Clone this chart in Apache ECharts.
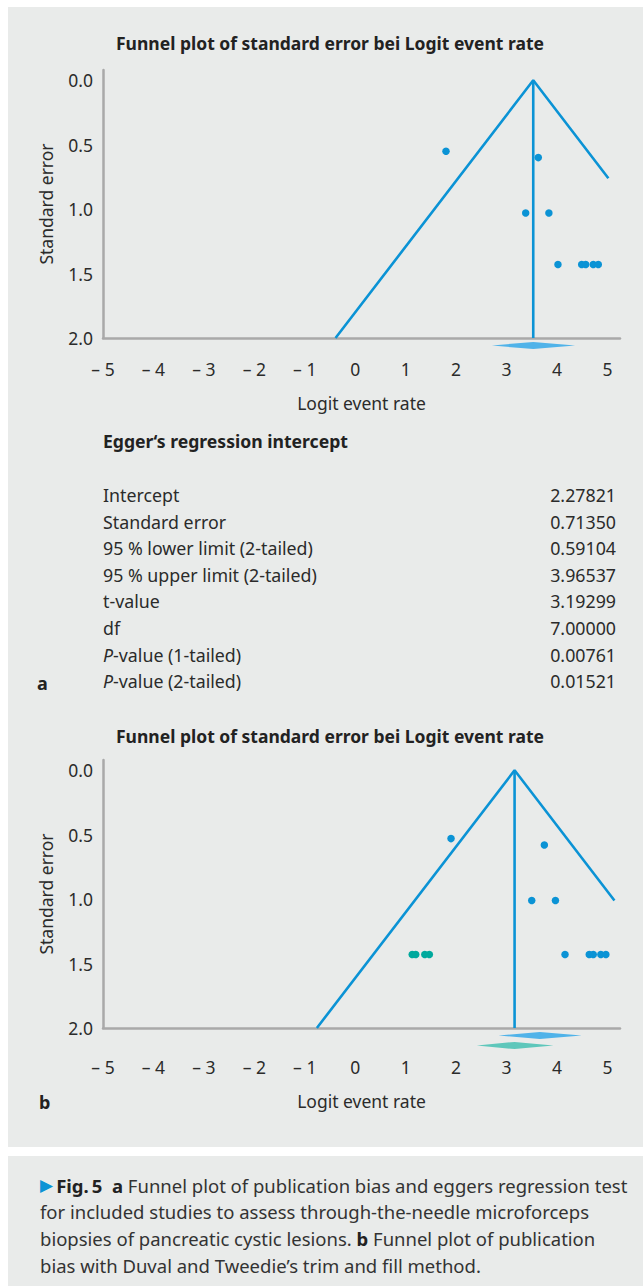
<!DOCTYPE html>
<html><head><meta charset="utf-8">
<script src="https://cdn.jsdelivr.net/npm/echarts@6/dist/echarts.min.js"></script>
<style>html,body{margin:0;padding:0;background:#fff;}#c{width:643px;height:1286px;}</style>
</head><body><div id="c"></div>
<script>
// ---- tick labels ----
const xTickValues = [-5, -4, -3, -2, -1, 0, 1, 2, 3, 4, 5];
const yTickValues = [0, 0.5, 1.0, 1.5, 2.0];

// ---- panel a (observed studies) ----
const aStudyLogit = [1.80, 3.63, 3.38, 3.84, 4.02, 4.49, 4.57, 4.72, 4.82];
const aStudySE    = [0.55, 0.60, 1.03, 1.03, 1.43, 1.43, 1.43, 1.43, 1.43];
const aPooled = [2.71, 3.53, 4.36];          // lower, estimate, upper
const aFunnelRightSE = 0.76;

// ---- panel b (trim and fill) ----
const bStudyLogit = [1.90, 3.75, 3.50, 3.97, 4.16, 4.64, 4.72, 4.87, 4.97];
const bStudySE    = [0.53, 0.58, 1.01, 1.01, 1.43, 1.43, 1.43, 1.43, 1.43];
const bImputedLogit = [1.13, 1.20, 1.38, 1.47];
const bImputedSE    = [1.43, 1.43, 1.43, 1.43];
const bObservedPooled = [2.84, 3.66, 4.49];
const bAdjustedPooled = [2.41, 3.16, 3.93];
const bFunnelRightSE = 1.01;

const SE_MAX = 2.0;
const Z = 1.96;

// ---- Egger table ----
const eggerLabels = ['Intercept', 'Standard error', '95 % lower limit (2-tailed)', '95 % upper limit (2-tailed)', 't-value', 'df', '{i|P}-value (1-tailed)', '{i|P}-value (2-tailed)'];
const eggerValues = ['2.27821', '0.71350', '0.59104', '3.96537', '3.19299', '7.00000', '0.00761', '0.01521'];

const FONT = 'Noto Sans';
const BLUE = '#0b93d5';
const TEAL = '#00a99d';
const AXIS_GRAY = '#a9a9a9';
const TXT = '#2b2b2b';

function zip(a, b) { return a.map((v, i) => [v, b[i]]); }
function funnel(c, rightSE) {
  return [[c - Z * SE_MAX, SE_MAX], [c, 0], [c + Z * rightSE, rightSE]];
}

function xAxisCfg(gridIndex, margin, nameGap) {
  return {
    type: 'value', gridIndex, min: -5, max: 5.25,
    axisLine: { show: true, onZero: false, lineStyle: { color: AXIS_GRAY, width: 2.5 } },
    axisTick: { show: false }, splitLine: { show: false },
    axisLabel: {
      customValues: xTickValues, margin, color: TXT, fontFamily: FONT, fontSize: 17.5,
      formatter: v => v < 0 ? '\u2013 ' + Math.abs(v) : String(v)
    },
    name: 'Logit event rate', nameLocation: 'middle', nameGap,
    nameTextStyle: { color: TXT, fontFamily: FONT, fontSize: 17.5 }
  };
}
function yAxisCfg(gridIndex) {
  return {
    type: 'value', gridIndex, inverse: true, min: -0.08, max: SE_MAX,
    axisLine: { show: true, onZero: false, lineStyle: { color: AXIS_GRAY, width: 2.5 } },
    axisTick: { show: false }, splitLine: { show: false },
    axisLabel: {
      customValues: yTickValues, margin: 10, color: TXT, fontFamily: FONT, fontSize: 17.5,
      formatter: v => v.toFixed(1)
    },
    name: 'Standard error', nameLocation: 'middle', nameGap: 48, nameRotate: 90,
    nameTextStyle: { color: TXT, fontFamily: FONT, fontSize: 17.5 }
  };
}

function diamondSeries(idx, pooled, color, offset) {
  return {
    type: 'custom', xAxisIndex: idx, yAxisIndex: idx, clip: false, silent: true,
    data: [pooled],
    encode: { x: [0, 1, 2] },
    renderItem: (params, api) => {
      const lo = api.coord([api.value(0), SE_MAX]);
      const mid = api.coord([api.value(1), SE_MAX]);
      const hi = api.coord([api.value(2), SE_MAX]);
      const y = lo[1] + offset, h = 3.6;
      return { type: 'polygon', shape: { points: [[lo[0], y], [mid[0], y - h], [hi[0], y], [mid[0], y + h]] }, style: { fill: color } };
    }
  };
}
function lineSeries(idx, data) {
  return { type: 'line', xAxisIndex: idx, yAxisIndex: idx, data, symbol: 'none', silent: true,
    lineStyle: { color: BLUE, width: 2.6 }, z: 2 };
}
function dotSeries(idx, data, color) {
  return { type: 'scatter', xAxisIndex: idx, yAxisIndex: idx, data, symbol: 'circle', symbolSize: 7.5,
    itemStyle: { color, opacity: 1 }, z: 3 };
}

const graphics = [
  { type: 'rect', shape: { x: 8, y: 7, width: 635, height: 1140 }, style: { fill: '#e9ebea' }, z: -10 },
  { type: 'rect', shape: { x: 8, y: 1156, width: 635, height: 130 }, style: { fill: '#e9ebea' }, z: -10 },
  { type: 'text', x: 103, y: 441, style: { text: 'Egger\u2018s regression intercept', font: `bold 17.6px "${FONT}"`, fill: '#222', textVerticalAlign: 'middle' } },
  { type: 'text', x: 37, y: 683, style: { text: 'a', font: `bold 18px "${FONT}"`, fill: '#222', textVerticalAlign: 'middle' } },
  { type: 'text', x: 39, y: 1102, style: { text: 'b', font: `bold 18px "${FONT}"`, fill: '#222', textVerticalAlign: 'middle' } }
];
eggerLabels.forEach((lab, i) => {
  const y = 495 + i * 26.6;
  graphics.push({ type: 'text', x: 103, y, style: { text: lab, font: `17.8px "${FONT}"`, fill: TXT, textVerticalAlign: 'middle',
    rich: { i: { fontStyle: 'italic', fontFamily: FONT, fontSize: 17.8, fill: TXT } } } });
  graphics.push({ type: 'text', x: 616, y, style: { text: eggerValues[i], font: `17.8px "${FONT}"`, fill: TXT, textAlign: 'right', textVerticalAlign: 'middle' } });
});
const capRich = {
  ar: { fill: BLUE, fontFamily: 'DejaVu Sans', fontSize: 17 },
  b: { fontWeight: 'bold', fontFamily: FONT, fontSize: 18.5, fill: '#222' },
  n: { fontFamily: FONT, fontSize: 18.5, fill: '#333' }
};
const capLines = [
  '{ar|\u25B6}{b|\u2009Fig.\u20095  a}{n| Funnel plot of publication bias and eggers regression test}',
  '{n|for included studies to assess through-the-needle microforceps}',
  '{n|biopsies of pancreatic cystic lesions. }{b|b}{n| Funnel plot of publication}',
  '{n|bias with Duval and Tweedie\u2019s trim and fill method.}'
];
capLines.forEach((t, i) => {
  graphics.push({ type: 'text', x: 40, y: 1185 + i * 26.7, style: { text: t, rich: capRich, textVerticalAlign: 'middle', font: `18.5px "${FONT}"` } });
});

const chart = echarts.init(document.getElementById('c'), null, { renderer: 'svg' });
chart.setOption({
  animation: false,
  backgroundColor: '#ffffff',
  title: [
    { text: 'Funnel plot of standard error bei Logit event rate', left: 330, top: 34, textAlign: 'center', padding: 0,
      textStyle: { fontFamily: FONT, fontWeight: 'bold', fontSize: 17.5, color: '#222' } },
    { text: 'Funnel plot of standard error bei Logit event rate', left: 330, top: 727, textAlign: 'center', padding: 0,
      textStyle: { fontFamily: FONT, fontWeight: 'bold', fontSize: 17.5, color: '#222' } }
  ],
  grid: [
    { left: 103, top: 70, width: 517, height: 268 },
    { left: 103, top: 760, width: 517, height: 268 }
  ],
  xAxis: [xAxisCfg(0, 22, 56), xAxisCfg(1, 30, 64)],
  yAxis: [yAxisCfg(0), yAxisCfg(1)],
  series: [
    lineSeries(0, funnel(aPooled[1], aFunnelRightSE)),
    lineSeries(0, [[aPooled[1], 0], [aPooled[1], SE_MAX]]),
    dotSeries(0, zip(aStudyLogit, aStudySE), BLUE),
    diamondSeries(0, aPooled, '#50b3e9', 7.5),
    lineSeries(1, funnel(bAdjustedPooled[1], bFunnelRightSE)),
    lineSeries(1, [[bAdjustedPooled[1], 0], [bAdjustedPooled[1], SE_MAX]]),
    dotSeries(1, zip(bStudyLogit, bStudySE), BLUE),
    dotSeries(1, zip(bImputedLogit, bImputedSE), TEAL),
    diamondSeries(1, bObservedPooled, '#50b3e9', 7.5),
    diamondSeries(1, bAdjustedPooled, '#5ec7bb', 17.5)
  ],
  graphic: graphics
});
</script></body></html>
